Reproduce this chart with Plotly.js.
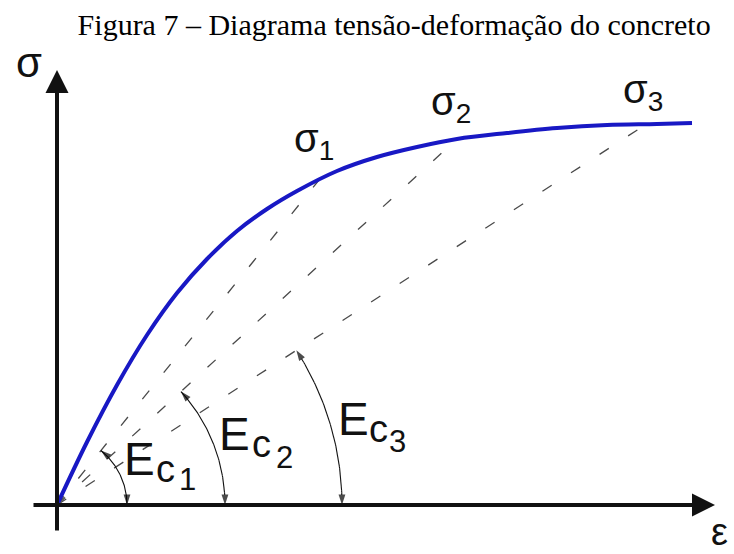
<!DOCTYPE html>
<html><head><meta charset="utf-8">
<script src="https://cdn.plot.ly/plotly-3.0.1.min.js"></script>
<style>html,body{margin:0;padding:0;background:#fff}#chart{width:734px;height:554px}</style>
</head><body><div id="chart"></div>
<script>
// Stress-strain curve of concrete (schematic units)
var strain = [0, 0.3, 0.6, 0.9, 1.2, 1.5, 1.8, 2.1, 2.4, 2.8, 3.2, 3.6, 4.0, 4.5, 5.0, 5.5, 6.0, 6.35];
var stress = [0, 0.63, 1.20, 1.70, 2.12, 2.46, 2.74, 2.96, 3.14, 3.34, 3.48, 3.58, 3.66, 3.72, 3.77, 3.80, 3.81, 3.82];
// Points σ1, σ2, σ3 on the curve reached by the secant lines
var secantIndex = ['1', '2', '3'];
var secantStrain = [2.62, 4.0, 5.88];
var secantStress = [3.25, 3.66, 3.80];
// Angle arcs of the secant moduli Ec1, Ec2, Ec3
var arcRadius = [0.70, 1.68, 2.85];
var titleText = 'Figura 7 – Diagrama tensão-deformação do concreto';

// ---- layout constants (positions / styles) ----
var SANS = 'Liberation Sans, Arial, sans-serif';
var INK = '#111111';
var xAxisStart = -0.25, xAxisTip = 6.58;
var yAxisStart = -0.27, yAxisTip = 4.35;
var sigmaLabelPos = [[2.35, 3.91], [3.72, 4.28], [5.64, 4.40]];
var ecPos = [
  {E: [0.65, 0.736], c: [0.965, 0.594], n: [1.196, 0.45]},
  {E: [1.603, 0.986], c: [1.925, 0.844], n: [2.167, 0.67]},
  {E: [2.793, 1.136], c: [3.095, 0.994], n: [3.30, 0.83]}
];

var traces = [];
// secant lines
for (var i = 0; i < secantStrain.length; i++) {
  traces.push({
    x: [0, secantStrain[i]], y: [0, secantStress[i]], mode: 'lines',
    line: {color: '#4a4a4a', width: 1.3, dash: '11px,23px'}, hoverinfo: 'skip'
  });
}
// arcs, drawn as two halves from the middle so each end gets an arrowhead
function arcHalf(r, a0, a1) {
  var xs = [], ys = [], sz = [];
  var n = 40;
  for (var k = 0; k <= n; k++) {
    var t = a0 + (a1 - a0) * k / n;
    xs.push(r * Math.cos(t)); ys.push(r * Math.sin(t)); sz.push(k === n ? 11 : 0);
  }
  return {x: xs, y: ys, mode: 'lines+markers', hoverinfo: 'skip',
    line: {color: INK, width: 1.1},
    marker: {symbol: 'arrow', size: sz, angleref: 'previous', color: '#000', line: {width: 0}}};
}
for (var i = 0; i < arcRadius.length; i++) {
  var r = arcRadius[i];
  var th = Math.atan2(secantStress[i], secantStrain[i]);
  traces.push(arcHalf(r, th / 2, th));
  traces.push(arcHalf(r, th / 2, 0));
}
// main curve
traces.push({
  x: strain, y: stress, mode: 'lines',
  line: {color: '#1818c4', width: 4, shape: 'spline', smoothing: 1}, hoverinfo: 'skip'
});

var annotations = [];
function arrowAnn(x, y, ax, ay, w, head, size) {
  return {x: x, y: y, ax: ax, ay: ay, xref: 'x', yref: 'y', axref: 'x', ayref: 'y',
    text: '', showarrow: true, arrowhead: head, arrowsize: size, arrowwidth: w,
    arrowcolor: INK, standoff: 0, startstandoff: 0};
}
// axes with arrows
annotations.push(arrowAnn(xAxisTip, 0, xAxisStart, 0, 4, 2, 1.15));
annotations.push(arrowAnn(0, yAxisTip, 0, yAxisStart, 4, 2, 1.15));

function textAnn(txt, pos, size) {
  return {x: pos[0], y: pos[1], xref: 'x', yref: 'y', text: txt, showarrow: false,
    xanchor: 'left', yanchor: 'top', font: {family: SANS, size: size, color: INK}};
}
annotations.push(textAnn('σ', [-0.43, 4.68], 42));
var epsLabel = textAnn('ε', [6.54, -0.48], 38);
epsLabel.yanchor = 'bottom';
epsLabel.borderpad = 0; epsLabel.borderwidth = 0;
annotations.push(epsLabel);
for (var i = 0; i < secantIndex.length; i++) {
  annotations.push(textAnn('σ<sub>' + secantIndex[i] + '</sub>', sigmaLabelPos[i], 40));
  annotations.push(textAnn('E', ecPos[i].E, 46));
  annotations.push(textAnn('c', ecPos[i].c, 38));
  annotations.push(textAnn(secantIndex[i], ecPos[i].n, 31));
}

var layout = {
  width: 734, height: 554,
  margin: {l: 0, r: 0, t: 0, b: 0},
  paper_bgcolor: '#ffffff', plot_bgcolor: '#ffffff',
  showlegend: false,
  title: {text: titleText, x: 0.537, xanchor: 'center', xref: 'paper',
    y: 0.9747, yref: 'container', yanchor: 'top',
    font: {family: 'Liberation Serif, Times New Roman, serif', size: 30, color: '#000'}},
  xaxis: {range: [-0.57, 6.77], visible: false, fixedrange: true},
  yaxis: {range: [-0.49, 5.05], visible: false, fixedrange: true},
  annotations: annotations
};
Plotly.newPlot('chart', traces, layout, {staticPlot: true, displayModeBar: false});
</script></body></html>
